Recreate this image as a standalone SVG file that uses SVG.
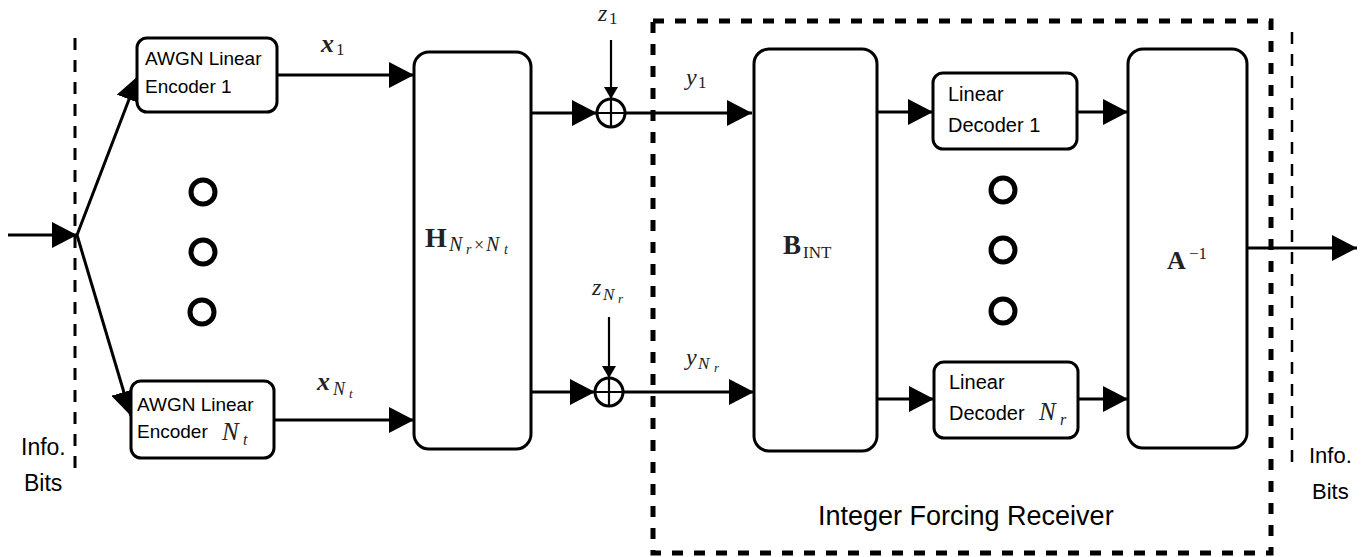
<svg xmlns="http://www.w3.org/2000/svg" width="1371" height="557" viewBox="0 0 1371 557">
<style>
.box{fill:#fff;stroke:#000;stroke-width:3}
.ln{fill:none;stroke:#000;stroke-width:3}
.lns{fill:none;stroke:#000;stroke-width:2.2}
.dot{fill:none;stroke:#000;stroke-width:5}
.t{font-family:"Liberation Sans",Arial,sans-serif;fill:#000}
.m{font-family:"Liberation Serif","Times New Roman",serif;font-style:italic;fill:#222}
.mb{font-family:"Liberation Serif","Times New Roman",serif;font-weight:bold;fill:#222}
.mr{font-family:"Liberation Serif","Times New Roman",serif;fill:#222}
</style>
<defs>
<marker id="ah" viewBox="0 0 25 26" refX="25" refY="13" markerWidth="25" markerHeight="26" markerUnits="userSpaceOnUse" orient="auto"><path d="M0,0 L25,13 L0,26 Z" fill="#000"/></marker>
<marker id="as" viewBox="0 0 12 14" refX="12" refY="7" markerWidth="12" markerHeight="14" markerUnits="userSpaceOnUse" orient="auto"><path d="M0,0 L12,7 L0,14 Z" fill="#000"/></marker>
</defs>
<rect width="1371" height="557" fill="#fff"/>

<g id="boundaries">
<line x1="75" y1="38" x2="75" y2="478" stroke="#000" stroke-width="3" stroke-dasharray="12 10"/>
<line x1="1292" y1="32" x2="1292" y2="470" stroke="#000" stroke-width="2.5" stroke-dasharray="12 10"/>
<rect id="receiver" x="653" y="21" width="618" height="532" fill="none" stroke="#000" stroke-width="5" stroke-dasharray="11 11"/>
</g>

<g id="connectors">
<path class="ln" d="M8,235 H77" marker-end="url(#ah)"/>
<path class="ln" d="M77,235 L138,76" marker-end="url(#ah)"/>
<path class="ln" d="M77,235 L131,416" marker-end="url(#ah)"/>
<path class="ln" d="M277,75 H414" marker-end="url(#ah)"/>
<path class="ln" d="M274,420 H414" marker-end="url(#ah)"/>
<path class="ln" d="M531,113 H597" marker-end="url(#ah)"/>
<path class="lns" d="M611,40 V99" marker-end="url(#as)"/>
<path class="ln" d="M625,113 H752" marker-end="url(#ah)"/>
<path class="ln" d="M531,392 H595" marker-end="url(#ah)"/>
<path class="lns" d="M609,317 V378" marker-end="url(#as)"/>
<path class="ln" d="M623,392 H754" marker-end="url(#ah)"/>
<path class="ln" d="M877,112 H933" marker-end="url(#ah)"/>
<path class="ln" d="M1077,112 H1128" marker-end="url(#ah)"/>
<path class="ln" d="M877,399 H934" marker-end="url(#ah)"/>
<path class="ln" d="M1078,399 H1128" marker-end="url(#ah)"/>
<path class="ln" d="M1247,248 H1357" marker-end="url(#ah)"/>
</g>

<g id="sum1">
<circle cx="611" cy="113" r="14" fill="#fff" stroke="#000" stroke-width="3"/>
<path class="lns" d="M597,113 H625 M611,99 V127"/>
</g>
<g id="sum2">
<circle cx="609" cy="392" r="14" fill="#fff" stroke="#000" stroke-width="3"/>
<path class="lns" d="M595,392 H623 M609,378 V406"/>
</g>

<g id="enc1">
<rect class="box" x="137" y="38" width="140" height="74" rx="10"/>
<text class="t" x="145" y="65" font-size="19">AWGN Linear</text>
<text class="t" x="145" y="93" font-size="19">Encoder 1</text>
</g>
<g id="encNt">
<rect class="box" x="131" y="381" width="143" height="77" rx="10"/>
<text class="t" x="137" y="411" font-size="19">AWGN Linear</text>
<text class="t" x="137" y="438" font-size="19">Encoder</text>
<text class="m" x="222" y="440" font-size="25">N</text>
<text class="m" x="243" y="445" font-size="16">t</text>
</g>
<g id="dots-left">
<circle class="dot" cx="203" cy="192" r="12"/>
<circle class="dot" cx="203" cy="252" r="12"/>
<circle class="dot" cx="202" cy="312" r="12"/>
</g>
<g id="H">
<rect class="box" x="414" y="52" width="117" height="397" rx="15"/>
<text class="mb" x="425" y="247" font-size="28">H</text>
<text class="m" x="449" y="251" font-size="20">N</text>
<text class="m" x="466" y="254" font-size="14">r</text>
<text class="mr" x="474" y="251" font-size="18">×</text>
<text class="m" x="486" y="251" font-size="20">N</text>
<text class="m" x="504" y="254" font-size="14">t</text>
</g>
<g id="B">
<rect class="box" x="754" y="49" width="123" height="402" rx="15"/>
<text class="mb" x="783" y="254" font-size="27">B</text>
<text class="mr" x="803" y="258" font-size="17">INT</text>
</g>
<g id="dec1">
<rect class="box" x="933" y="73" width="144" height="76" rx="10"/>
<text class="t" x="948" y="101" font-size="20">Linear</text>
<text class="t" x="948" y="132" font-size="20">Decoder 1</text>
</g>
<g id="decNr">
<rect class="box" x="934" y="362" width="144" height="76" rx="10"/>
<text class="t" x="949" y="389" font-size="20">Linear</text>
<text class="t" x="949" y="420" font-size="20">Decoder</text>
<text class="m" x="1039" y="420" font-size="25">N</text>
<text class="m" x="1060" y="425" font-size="16">r</text>
</g>
<g id="dots-right">
<circle class="dot" cx="1003" cy="190" r="12"/>
<circle class="dot" cx="1003" cy="250" r="12"/>
<circle class="dot" cx="1003" cy="311" r="12"/>
</g>
<g id="A">
<rect class="box" x="1128" y="49" width="119" height="399" rx="15"/>
<text class="mb" x="1167" y="269" font-size="26">A</text>
<text class="mr" x="1189" y="259" font-size="17">−1</text>
</g>

<g id="labels">
<text class="mb" font-style="italic" x="321" y="52" font-size="26">x</text>
<text class="mr" x="336" y="55" font-size="17">1</text>
<text class="mb" font-style="italic" x="317" y="390" font-size="26">x</text>
<text class="m" x="333" y="395" font-size="18">N</text>
<text class="m" x="349" y="398" font-size="13">t</text>
<text class="m" x="598" y="21" font-size="24">z</text>
<text class="mr" x="609" y="24" font-size="17">1</text>
<text class="m" x="592" y="295" font-size="24">z</text>
<text class="m" x="603" y="300" font-size="17">N</text>
<text class="m" x="618" y="303" font-size="13">r</text>
<text class="m" x="686" y="85" font-size="24">y</text>
<text class="mr" x="698" y="88" font-size="17">1</text>
<text class="m" x="686" y="365" font-size="24">y</text>
<text class="m" x="698" y="369" font-size="17">N</text>
<text class="m" x="714" y="372" font-size="13">r</text>
<text class="t" x="21" y="455" font-size="23">Info.</text>
<text class="t" x="24" y="491" font-size="23">Bits</text>
<text class="t" x="1309" y="463" font-size="22">Info.</text>
<text class="t" x="1312" y="499" font-size="22">Bits</text>
<text class="t" x="818" y="525" font-size="27">Integer Forcing Receiver</text>
</g>
</svg>
